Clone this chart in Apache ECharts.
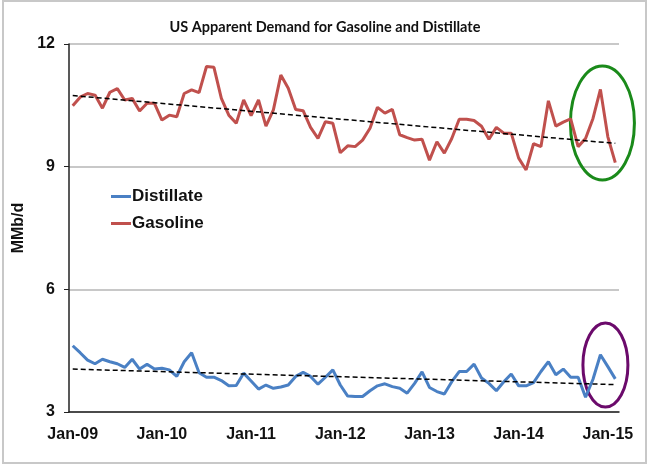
<!DOCTYPE html>
<html>
<head>
<meta charset="utf-8">
<script src="https://cdn.jsdelivr.net/npm/echarts@6/dist/echarts.min.js"></script>
<style>
  html, body { margin: 0; padding: 0; background: #fff; }
  #chart { width: 650px; height: 465px; }
</style>
</head>
<body>
<div id="chart"></div>
<script>
'use strict';
// monthly apparent demand, Jan-09 .. Feb-15 (MMb/d)
const monthNames = ['Jan', 'Feb', 'Mar', 'Apr', 'May', 'Jun', 'Jul', 'Aug', 'Sep', 'Oct', 'Nov', 'Dec'];
const yearLabels = ['09', '10', '11', '12', '13', '14', '15'];
const gasoline = [
  10.49, 10.70, 10.79, 10.75, 10.43, 10.82, 10.91, 10.63, 10.67, 10.36, 10.55, 10.55,
  10.14, 10.26, 10.22, 10.79, 10.88, 10.81, 11.45, 11.43, 10.67, 10.26, 10.06, 10.63,
  10.25, 10.63, 9.99, 10.39, 11.24, 10.92, 10.40, 10.37, 9.96, 9.69, 10.10, 10.06,
  9.34, 9.51, 9.49, 9.65, 9.94, 10.45, 10.31, 10.40, 9.78, 9.71, 9.65, 9.67,
  9.16, 9.61, 9.33, 9.69, 10.16, 10.16, 10.13, 9.99, 9.67, 9.96, 9.82, 9.82,
  9.21, 8.92, 9.56, 9.49, 10.61, 9.99, 10.09, 10.17, 9.49, 9.69, 10.18, 10.89,
  9.73, 9.10
];
const distillate = [
  4.62, 4.45, 4.27, 4.18, 4.29, 4.23, 4.18, 4.09, 4.29, 4.05, 4.17, 4.05,
  4.07, 4.03, 3.87, 4.23, 4.45, 3.96, 3.85, 3.85, 3.77, 3.64, 3.65, 3.95,
  3.76, 3.56, 3.66, 3.58, 3.61, 3.66, 3.87, 3.97, 3.87, 3.68, 3.85, 4.03,
  3.66, 3.39, 3.38, 3.38, 3.52, 3.64, 3.69, 3.62, 3.58, 3.46, 3.70, 3.98,
  3.60, 3.50, 3.44, 3.74, 3.99, 3.99, 4.17, 3.83, 3.70, 3.52, 3.74, 3.93,
  3.64, 3.64, 3.72, 3.99, 4.23, 3.91, 4.05, 3.85, 3.85, 3.36, 3.80, 4.40,
  4.11, 3.81
];
// linear trend, first and last month
const gasTrend = [10.74, 9.57];
const distTrend = [4.05, 3.67];
const yTicks = [3, 6, 9, 12];

let categories = [];
yearLabels.forEach(y => {
  monthNames.forEach(m => {
    if (categories.length < gasoline.length) categories.push(m + '-' + y);
  });
});
const lastCat = categories[categories.length - 1];

const font = '"Liberation Sans", Arial, sans-serif';
let chart = echarts.init(document.getElementById('chart'), null, { renderer: 'canvas' });

function trendLine(vals) {
  return {
    silent: true,
    symbol: 'none',
    animation: false,
    label: { show: false },
    lineStyle: { color: '#000', width: 1.5, type: [5, 3] },
    data: [[{ coord: [categories[0], vals[0]] }, { coord: [lastCat, vals[1]] }]]
  };
}

chart.setOption({
  animation: false,
  backgroundColor: '#fff',
  title: {
    text: 'US Apparent Demand for Gasoline and Distillate',
    left: 'center',
    top: 15,
    textStyle: { fontFamily: 'Lato, sans-serif', fontWeight: 'bold', fontSize: 14.5, color: '#111' }
  },
  legend: {
    orient: 'vertical',
    left: 106,
    top: 183,
    icon: 'rect',
    itemWidth: 20,
    itemHeight: 3,
    itemGap: 10,
    data: ['Distillate', 'Gasoline'],
    textStyle: { fontFamily: font, fontWeight: 'bold', fontSize: 17, color: '#111', padding: [0, 0, 0, -4] }
  },
  grid: { left: 69, right: 31, top: 44, bottom: 53 },
  xAxis: {
    type: 'category',
    data: categories,
    boundaryGap: true,
    axisLine: { lineStyle: { color: '#222', width: 1.5 } },
    axisTick: { interval: 11, length: 5, lineStyle: { color: '#444', width: 1 } },
    axisLabel: {
      interval: 11,
      margin: 15,
      fontFamily: font,
      fontWeight: 'bold',
      fontSize: 16,
      color: '#111'
    },
    splitLine: { show: false }
  },
  yAxis: {
    type: 'value',
    min: yTicks[0],
    max: yTicks[yTicks.length - 1],
    interval: 3,
    name: 'MMb/d',
    nameLocation: 'middle',
    nameGap: 37,
    nameRotate: 90,
    nameTextStyle: { fontFamily: font, fontWeight: 'bold', fontSize: 16, color: '#111' },
    axisLine: { show: true, lineStyle: { color: '#222', width: 1.5 } },
    axisTick: { show: true, length: 5, lineStyle: { color: '#222' } },
    axisLabel: { margin: 14, fontFamily: font, fontWeight: 'bold', fontSize: 16, color: '#111' },
    splitLine: { lineStyle: { color: '#c8c8c8', width: 2 } }
  },
  series: [
    {
      name: 'Distillate',
      type: 'line',
      data: distillate,
      symbol: 'none',
      lineStyle: { color: '#4a80c4', width: 3 },
      itemStyle: { color: '#4a80c4' },
      markLine: trendLine(distTrend)
    },
    {
      name: 'Gasoline',
      type: 'line',
      data: gasoline,
      symbol: 'none',
      lineStyle: { color: '#c0504d', width: 3 },
      itemStyle: { color: '#c0504d' },
      markLine: trendLine(gasTrend)
    }
  ]
});

// annotation ellipses around the latest months, anchored in data space
let gasC = chart.convertToPixel({ gridIndex: 0 }, [categories[71], 10.07]);
let distC = chart.convertToPixel({ gridIndex: 0 }, [categories[71], 4.15]);
chart.setOption({
  graphic: [
    {
      type: 'rect',
      shape: { x: 3, y: 1, width: 643, height: 462 },
      style: { fill: 'none', stroke: '#c8c8c8', lineWidth: 2 },
      silent: true
    },
    {
      type: 'ellipse',
      shape: { cx: gasC[0] + 2, cy: gasC[1], rx: 32, ry: 57 },
      style: { fill: 'none', stroke: '#1a8a1a', lineWidth: 3 },
      silent: true
    },
    {
      type: 'ellipse',
      shape: { cx: distC[0] + 5, cy: distC[1], rx: 22.5, ry: 42 },
      style: { fill: 'none', stroke: '#6b0a6b', lineWidth: 3 },
      silent: true
    }
  ]
});
</script>
</body>
</html>
